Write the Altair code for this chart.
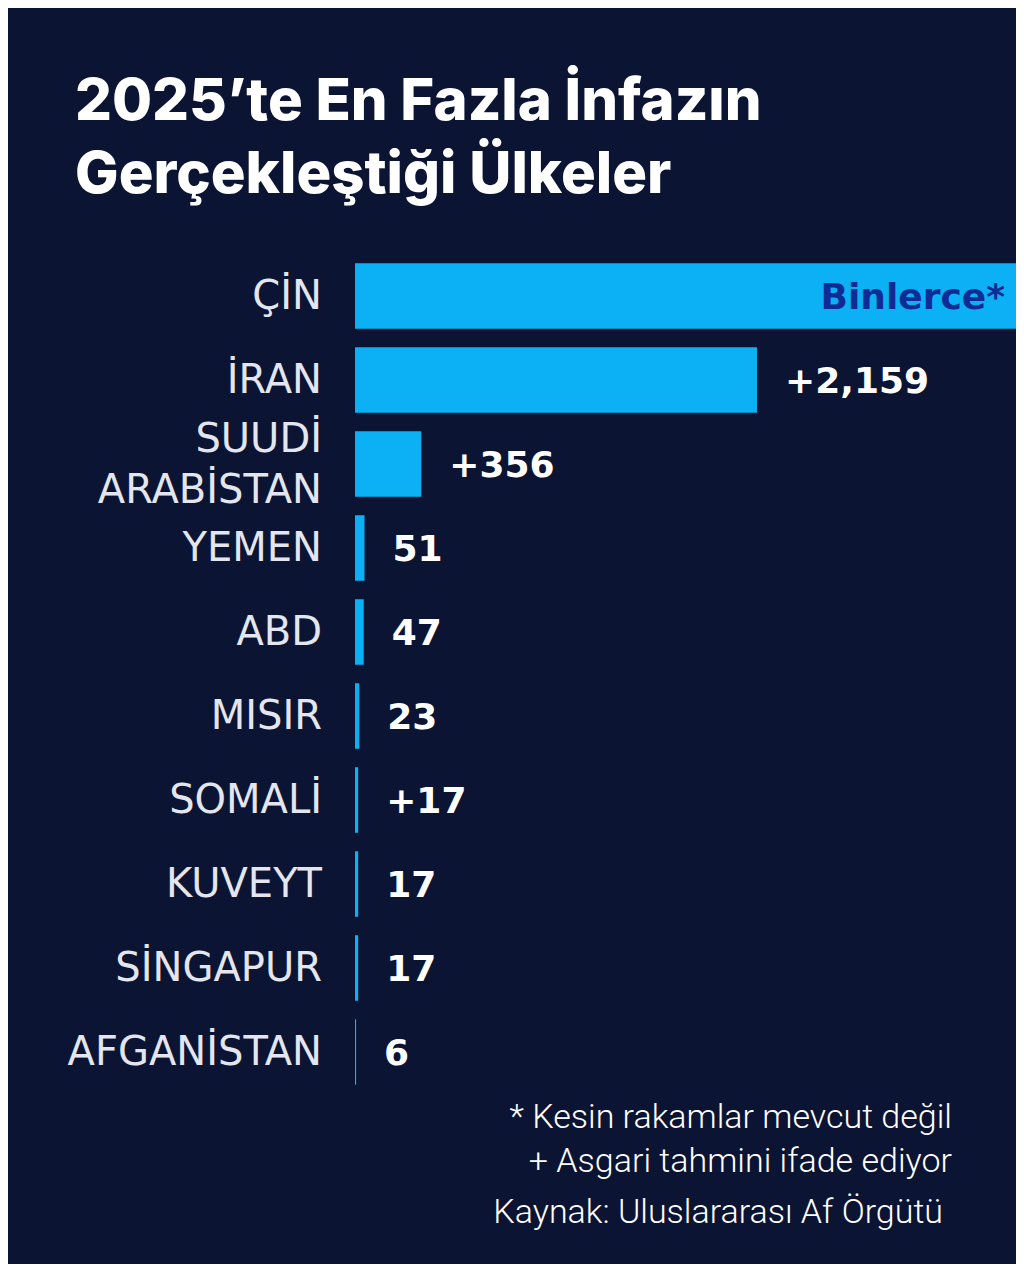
import altair as alt
import pandas as pd

# ---- data ----
countries = ["ÇİN", "İRAN", "SUUDİ\nARABİSTAN", "YEMEN", "ABD", "MISIR",
             "SOMALİ", "KUVEYT", "SİNGAPUR", "AFGANİSTAN"]
# ÇİN: "Binlerce" (thousands, exact figure unknown) -> bar drawn to full width
values = [3550, 2159, 356, 51, 47, 23, 17, 17, 17, 6]
value_labels = ["Binlerce*", "+2,159", "+356", "51", "47", "23", "+17", "17", "17", "6"]
inside = [True, False, False, False, False, False, False, False, False, False]

title_lines = ["2025’te En Fazla İnfazın", "Gerçekleştiği Ülkeler"]
footnotes = ["* Kesin rakamlar mevcut değil", "+ Asgari tahmini ifade ediyor",
             "Kaynak: Uluslararası Af Örgütü"]

BG = "#0b1433"
BAR = "#0cb0f4"

df = pd.DataFrame({"country": countries, "value": values,
                   "label": value_labels, "inside": inside,
                   "multiline": [("\n" in c) for c in countries]})

y_enc = alt.Y("country:N", sort=None, axis=None,
              scale=alt.Scale(domain=countries, paddingInner=0.22, paddingOuter=0.11))
x_scale = alt.Scale(domain=[0, 3550], nice=False, zero=True)

base = alt.Chart(df)

bars = base.mark_bar(color=BAR, cornerRadius=0).encode(
    x=alt.X("value:Q", scale=x_scale, axis=None),
    y=y_enc,
)

name_style = dict(align="right", font="DejaVu Sans", fontSize=40,
                  color="#e3e6ee", lineBreak="\n", lineHeight=51)

names = base.transform_filter("!datum.multiline").mark_text(
    baseline="middle", dy=1, **name_style).encode(
    x=alt.value(-33), y=y_enc, text="country:N")

names_ml = base.transform_filter("datum.multiline").mark_text(
    baseline="middle", dy=-24, **name_style).encode(
    x=alt.value(-33), y=y_enc, text="country:N")

outside_lbl = base.transform_filter("!datum.inside").mark_text(
    align="left", baseline="middle", dx=28, dy=2, font="DejaVu Sans",
    fontWeight="bold", fontSize=36, color="white").encode(
    x=alt.X("value:Q", scale=x_scale),
    y=y_enc,
    text="label:N",
)

inside_lbl = base.transform_filter("datum.inside").mark_text(
    align="right", baseline="middle", dx=-11, dy=2, font="DejaVu Sans",
    fontWeight="bold", fontSize=36, color="#0d2c94").encode(
    x=alt.X("value:Q", scale=x_scale),
    y=y_enc,
    text="label:N",
)

note_x = [597, 597, 588]
note_y = [874, 918, 969]
note_layers = []
for line, nx, ny in zip(footnotes, note_x, note_y):
    note_layers.append(
        alt.Chart(pd.DataFrame({"line": [line]})).mark_text(
            align="right", baseline="alphabetic", font="Roboto",
            fontWeight=300, fontSize=34, color="white").encode(
            x=alt.value(nx), y=alt.value(ny), text="line:N")
    )

chart = alt.layer(bars, names, names_ml, outside_lbl, inside_lbl,
                  *note_layers).properties(
    width=661,
    height=840,
    background=BG,
    padding={"left": 347, "top": 246, "right": 0, "bottom": 170},
    autosize=alt.AutoSizeParams(type="none"),
    title=alt.TitleParams(
        text=title_lines, anchor="start", frame="group", dx=-280,
        offset=49, color="white", font="Inter", fontWeight=800,
        fontSize=58, lineHeight=73,
    ),
).configure_view(stroke=None)

chart.save("out.html", embed_options={"renderer": "svg", "actions": False})
